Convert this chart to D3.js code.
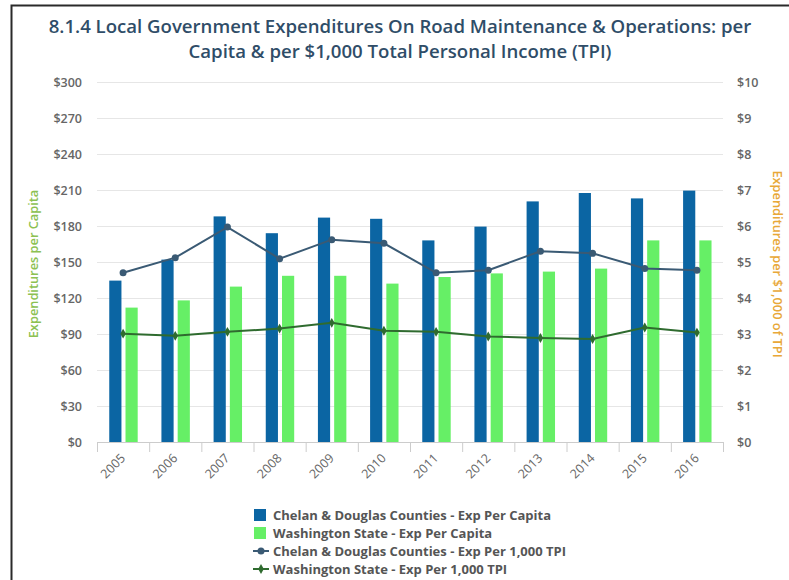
<!DOCTYPE html>
<html>
<head>
<meta charset="utf-8">
<script src="https://cdn.jsdelivr.net/npm/d3@7"></script>
<style>
  html, body { margin: 0; padding: 0; background: #fff; }
  svg { display: block; }
  text { font-family: "Open Sans", "DejaVu Sans", sans-serif; }
</style>
</head>
<body>
<svg id="chart" width="789" height="580"></svg>
<script>
// Years on the category axis
const years = ["2005","2006","2007","2008","2009","2010","2011","2012","2013","2014","2015","2016"];

// Expenditures per capita (dollars), left axis
const chelanPerCapita = [134.5, 152, 188, 174, 187, 186, 168, 179.5, 200.5, 207.5, 203, 209.5];
const waPerCapita     = [112, 118, 129.5, 138.5, 138.5, 132, 137.5, 140.5, 142, 144.5, 168, 168];

// Expenditures per $1,000 of total personal income, right axis
const chelanPerTPI = [4.70, 5.12, 5.97, 5.09, 5.62, 5.52, 4.70, 4.77, 5.30, 5.24, 4.82, 4.77];
const waPerTPI     = [3.01, 2.95, 3.06, 3.15, 3.31, 3.09, 3.06, 2.93, 2.89, 2.86, 3.18, 3.04];

// Axis ticks
const leftTicks  = [0, 30, 60, 90, 120, 150, 180, 210, 240, 270, 300];
const rightTicks = [0, 1, 2, 3, 4, 5, 6, 7, 8, 9, 10];

const titleLines = [
  "8.1.4 Local Government Expenditures On Road Maintenance & Operations: per",
  "Capita & per $1,000 Total Personal Income (TPI)"
];

const seriesNames = [
  "Chelan & Douglas Counties - Exp Per Capita",
  "Washington State - Exp Per Capita",
  "Chelan & Douglas Counties - Exp Per 1,000 TPI",
  "Washington State - Exp Per 1,000 TPI"
];

const colors = {
  chelanBar: "#0b65a3",
  waBar: "#66ef66",
  chelanLine: "#3a5a74",
  waLine: "#2f6b2f",
  grid: "#e6e6e6",
  label: "#666666",
  title: "#2f4d68"
};

const svg = d3.select("#chart");
const plot = { left: 97, right: 723, top: 82, bottom: 442 };

// outer frame
svg.append("path")
  .attr("d", "M11.5,600 L11.5,5.5 L800,5.5")
  .attr("fill", "none")
  .attr("stroke", "#2a2a2a")
  .attr("stroke-width", 2);

// title, one text element per line
svg.append("g").selectAll("text")
  .data(titleLines).join("text")
  .attr("x", 400)
  .attr("y", (d, i) => i === 0 ? 33 : 58)
  .attr("text-anchor", "middle")
  .attr("fill", colors.title)
  .attr("font-size", 18.6)
  .attr("font-weight", 600)
  .text(d => d);

// scales
const x0 = d3.scaleBand().domain(years).range([plot.left, plot.right]).padding(0);
const bw = x0.bandwidth();
const x1 = d3.scaleBand().domain(["chelan", "wa"])
  .range([bw * 0.235, bw * 0.78]).paddingInner(0.25);
const yL = d3.scaleLinear().domain([0, 300]).range([plot.bottom, plot.top]);
const yR = d3.scaleLinear().domain([0, 10]).range([plot.bottom, plot.top]);

// gridlines
svg.append("g")
  .selectAll("line")
  .data(leftTicks.slice(1))
  .join("line")
  .attr("x1", plot.left).attr("x2", plot.right)
  .attr("y1", d => yL(d) + 0.5).attr("y2", d => yL(d) + 0.5)
  .attr("stroke", colors.grid);

// left axis labels
const leftAxis = d3.axisLeft(yL).tickValues(leftTicks).tickSize(0).tickPadding(15)
  .tickFormat(d => "$" + d);
svg.append("g").attr("transform", `translate(${plot.left},0)`).call(leftAxis)
  .call(g => g.select(".domain").remove())
  .call(g => g.selectAll("text")
    .attr("fill", colors.label).attr("font-size", 12.5).attr("font-weight", 600)
    .attr("font-family", "'Open Sans', sans-serif"));

// right axis labels
const rightAxis = d3.axisRight(yR).tickValues(rightTicks).tickSize(0).tickPadding(14)
  .tickFormat(d => "$" + d);
svg.append("g").attr("transform", `translate(${plot.right},0)`).call(rightAxis)
  .call(g => g.select(".domain").remove())
  .call(g => g.selectAll("text")
    .attr("fill", colors.label).attr("font-size", 12.5).attr("font-weight", 600)
    .attr("font-family", "'Open Sans', sans-serif"));

// axis titles
svg.append("text")
  .attr("transform", `translate(38,${(plot.top + plot.bottom) / 2 + 2}) rotate(-90)`)
  .attr("text-anchor", "middle")
  .attr("fill", "#8cc152").attr("font-size", 12.8).attr("font-weight", 600)
  .text("Expenditures per Capita");
svg.append("text")
  .attr("transform", `translate(773,${(plot.top + plot.bottom) / 2 + 2}) rotate(90)`)
  .attr("text-anchor", "middle")
  .attr("fill", "#e8a838").attr("font-size", 12.8).attr("font-weight", 600)
  .text("Expenditures per $1,000 of TPI");

// bars
const barData = years.map((y, i) => ({ year: y, chelan: chelanPerCapita[i], wa: waPerCapita[i] }));
const groups = svg.append("g").selectAll("g")
  .data(barData).join("g")
  .attr("transform", d => `translate(${x0(d.year)},0)`);
groups.selectAll("rect")
  .data(d => [{ key: "chelan", v: d.chelan }, { key: "wa", v: d.wa }])
  .join("rect")
  .attr("x", d => x1(d.key))
  .attr("width", x1.bandwidth())
  .attr("y", d => yL(d.v))
  .attr("height", d => yL(0) - yL(d.v))
  .attr("fill", d => d.key === "chelan" ? colors.chelanBar : colors.waBar);

// x axis
const xg = svg.append("g").attr("transform", `translate(0,${plot.bottom})`);
xg.append("line").attr("x1", plot.left).attr("x2", plot.right)
  .attr("y1", 0.5).attr("y2", 0.5).attr("stroke", "#cccccc");
xg.selectAll("line.tick")
  .data(years.concat(["end"]))
  .join("line").attr("class", "tick")
  .attr("x1", (d, i) => plot.left + i * bw + 0.5)
  .attr("x2", (d, i) => plot.left + i * bw + 0.5)
  .attr("y1", 0).attr("y2", 10).attr("stroke", "#cccccc");
xg.selectAll("text.lbl")
  .data(years).join("text").attr("class", "lbl")
  .attr("transform", d => `translate(${x0(d) + bw / 2 + 3},${17}) rotate(-45)`)
  .attr("text-anchor", "end")
  .attr("fill", colors.label).attr("font-size", 12.5).attr("font-weight", 400)
  .text(d => d);

// lines
const lineGen = d3.line()
  .x((d, i) => x0(years[i]) + bw / 2)
  .y(d => yR(d));
svg.append("path").datum(chelanPerTPI)
  .attr("d", lineGen).attr("fill", "none")
  .attr("stroke", colors.chelanLine).attr("stroke-width", 2);
svg.append("g").selectAll("circle").data(chelanPerTPI).join("circle")
  .attr("cx", (d, i) => x0(years[i]) + bw / 2)
  .attr("cy", d => yR(d)).attr("r", 3.5)
  .attr("fill", colors.chelanLine);

svg.append("path").datum(waPerTPI)
  .attr("d", lineGen).attr("fill", "none")
  .attr("stroke", colors.waLine).attr("stroke-width", 2);
const diamond = d3.symbol().type(d3.symbolDiamond).size(28);
svg.append("g").selectAll("path").data(waPerTPI).join("path")
  .attr("transform", (d, i) => `translate(${x0(years[i]) + bw / 2},${yR(d)})`)
  .attr("d", diamond)
  .attr("fill", colors.waLine);

// legend
const legend = svg.append("g");
const legendY = [515, 533, 551, 569];
seriesNames.forEach((name, i) => {
  const cy = legendY[i];
  if (i < 2) {
    legend.append("rect")
      .attr("x", 254).attr("y", cy - 6).attr("width", 12).attr("height", 12)
      .attr("fill", i === 0 ? colors.chelanBar : colors.waBar);
  } else {
    const c = i === 2 ? colors.chelanLine : colors.waLine;
    legend.append("line").attr("x1", 253).attr("x2", 269)
      .attr("y1", cy).attr("y2", cy).attr("stroke", c).attr("stroke-width", 2);
    if (i === 2) {
      legend.append("circle").attr("cx", 261).attr("cy", cy).attr("r", 3.5).attr("fill", c);
    } else {
      legend.append("path").attr("transform", `translate(261,${cy})`)
        .attr("d", diamond).attr("fill", c);
    }
  }
  legend.append("text")
    .attr("x", 273).attr("y", cy + 4.5)
    .attr("fill", "#555555").attr("font-size", 13).attr("font-weight", 700)
    .text(name);
});
</script>
</body>
</html>
